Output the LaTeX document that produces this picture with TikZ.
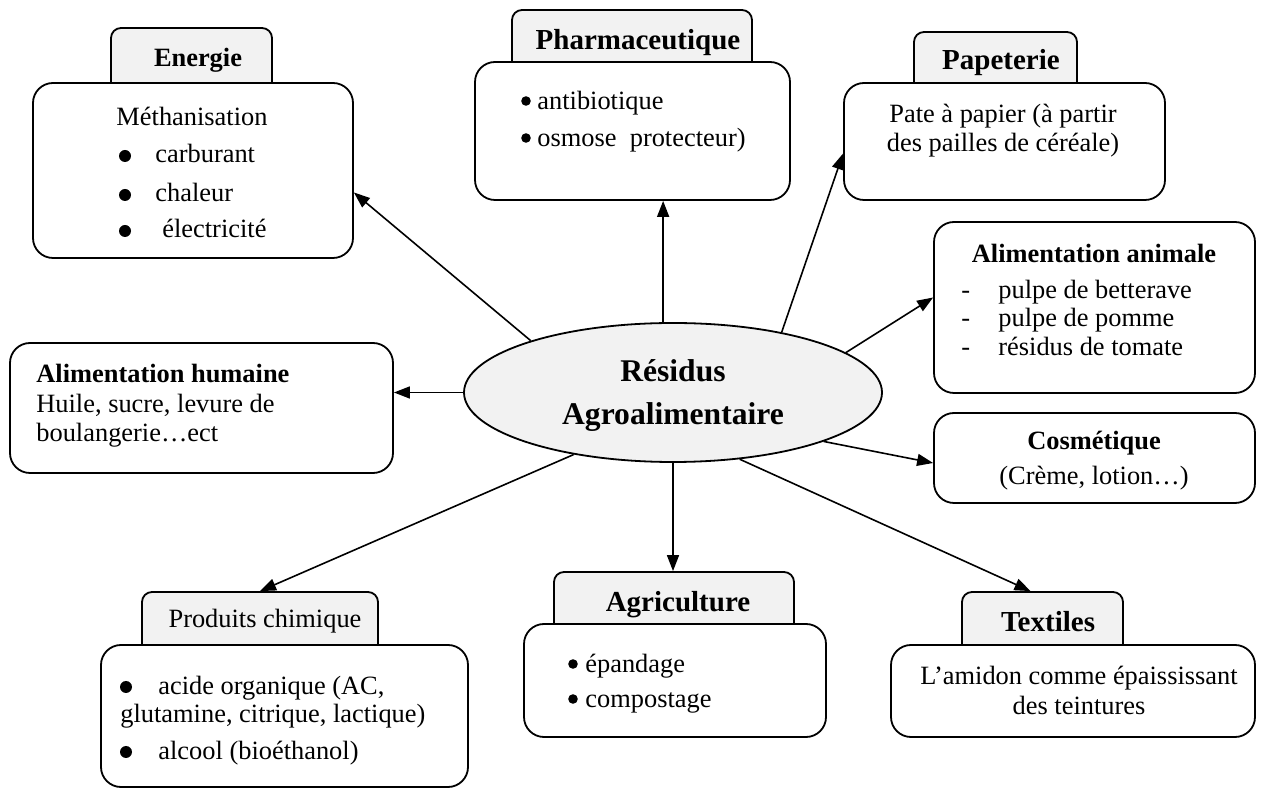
\documentclass[tikz,border=0pt]{standalone}
\usepackage{fontspec}
\setmainfont{Liberation Serif}
\usetikzlibrary{arrows.meta,calc,shapes.geometric}
\definecolor{gris}{RGB}{242,242,242}
\def\ftexte{\fontsize{13.2}{16}\selectfont}
\def\fgras{\bfseries\fontsize{13.2}{16}\selectfont}
\def\ftitre{\bfseries\fontsize{14.5}{17}\selectfont}
\def\fcentre{\bfseries\fontsize{15.8}{21.5}\selectfont}
\tikzset{
  boite/.style={draw, line width=0.9pt, rounded corners=10pt, fill=white, inner sep=0pt},
  onglet/.style={draw, line width=0.9pt, rounded corners=5pt, fill=gris, inner sep=0pt},
  fleche/.style={line width=0.8pt, -{Triangle[length=8pt,width=6pt]}},
  txt/.style={inner sep=0pt, anchor=base west, font=\ftexte},
  titre/.style={inner sep=0pt, anchor=base, font=\ftitre},
  puce/.style={fill=black}
}

\begin{document}
\begin{tikzpicture}[x=0.5pt,y=-0.5pt]
		\useasboundingbox (0,0) rectangle (1270,790);
		%%%%% ONGLETS %%%%%
		\node[onglet, minimum width=80.5pt, minimum height=33.5pt] (ongEner) at (191.5,61.5) {};
		\node[onglet, minimum width=120pt, minimum height=32pt] (ongPharma) at (632,42) {};
		\node[onglet, minimum width=81.5pt, minimum height=31.5pt] (ongPap) at (995.5,63.5) {};
		\node[onglet, minimum width=118pt, minimum height=32.5pt] (ongChim) at (260,624.5) {};
		\node[onglet, minimum width=120pt, minimum height=32pt] (ongAgri) at (674,604) {};
		\node[onglet, minimum width=80.5pt, minimum height=32.5pt] (ongTextil) at (1042.5,624.5) {};
		
		%%%%% BOITES %%%%%
		\node[boite, minimum width=160pt, minimum height=87.5pt] (ener) at (193,170.5) {};
		\node[boite, minimum width=157.5pt, minimum height=69pt] (pharma) at (632.5,131) {};
		\node[boite, minimum width=160.5pt, minimum height=58.5pt] (pap) at (1004.5,141.5) {};
		\node[boite, minimum width=160.5pt, minimum height=85.5pt] (anim) at (1094.5,307.5) {};
		\node[boite, minimum width=160.5pt, minimum height=45pt] (cosm) at (1094.5,458) {};
		\node[boite, minimum width=191.5pt, minimum height=65pt] (hum) at (201.5,408) {};
		\node[boite, minimum width=183.5pt, minimum height=71pt] (chim) at (284.5,716) {};
		\node[boite, minimum width=151pt, minimum height=56.5pt] (agri) at (675,680.5) {};
		\node[boite, minimum width=182pt, minimum height=46pt] (textil) at (1073,691) {};
		
		\node[ellipse, draw, fill=gris, line width=0.9pt, minimum width=209pt, minimum height=69.5pt,
		      inner sep=0pt] (res) at (673,392.5) {};
		
		%%%%% FLECHES %%%%%
		\draw[fleche] (res.160.5) -- ([yshift=-11pt]ener.east);
		\draw[fleche] (res.98) -- (res.98 |- pharma.south);
		\draw[fleche] (res.29) -- ([yshift=-6pt]pap.west);
		\draw[fleche] (res.13) -- ([yshift=5pt]anim.west);
		\draw[fleche] (res.342) -- ([yshift=-2.5pt]cosm.west);
		\draw[fleche] (res.west) -- (res.west -| hum.east);
		\draw[fleche] (res.212) -- (ongChim.north);
		\draw[fleche] (res.south) -- (res.south |- ongAgri.north);
		\draw[fleche] (res.315) -- ([xshift=-6pt]ongTextil.north);
		
		%%%%% TEXTES %%%%%
		\node[inner sep=0pt, anchor=base, font=\fcentre] (resA) at (673,382) {Résidus};
		\node[inner sep=0pt, anchor=base, font=\fcentre] (resB) at (673,425) {Agroalimentaire};
		
		% Energie
		\node[titre, font=\fgras] (tEner) at (198,67) {Energie};
		\node[inner sep=0pt, anchor=base, font=\ftexte] (eMeth) at (192,126) {Méthanisation};
		\fill[puce] (125,156) circle (3pt);
		\fill[puce] (125,195) circle (3pt);
		\fill[puce] (125,231) circle (3pt);
		\node[txt] (eCarb) at (155,163) {carburant};
		\node[txt] (eChal) at (155,202) {chaleur};
		\node[txt] (eElec) at (162,238) {électricité};
		
		% Pharmaceutique
		\node[titre] (tPharma) at (638,50) {Pharmaceutique};
		\fill[puce] (526,101) circle (2.4pt);
		\fill[puce] (526,138) circle (2.4pt);
		\node[txt] (pAnti) at (537,110) {antibiotique};
		\node[txt] (pOsmo) at (537,147) {osmose\ \ protecteur)};
		
		% Papeterie
		\node[titre] (tPap) at (1001,70) {Papeterie};
		\node[inner sep=0pt, anchor=base, font=\ftexte] (papA) at (1003,123) {Pate à papier (à partir};
		\node[inner sep=0pt, anchor=base, font=\ftexte] (papB) at (1003,152) {des pailles de céréale)};
		
		% Alimentation animale
		\node[titre, font=\fgras] (tAnim) at (1094,263) {Alimentation animale};
		\foreach \y/\t in {299/pulpe de betterave, 327/pulpe de pomme, 356/résidus de tomate}{
			\node[txt] at (961,\y) {-};
			\node[txt] at (998,\y) {\t};
		}
		
		% Cosmetique
		\node[titre, font=\fgras] (tCosm) at (1094,450) {Cosmétique};
		\node[inner sep=0pt, anchor=base, font=\ftexte] (cosA) at (1094,485) {(Crème, lotion…)};
		
		% Alimentation humaine
		\node[txt, font=\fgras] (tHum) at (36,383) {Alimentation humaine};
		\node[txt] (hA) at (36,413) {Huile, sucre, levure de};
		\node[txt] (hB) at (36,442) {boulangerie…ect};
		
		% Produits chimique
		\node[titre, font=\ftexte] (tChim) at (265,628) {Produits chimique};
		\fill[puce] (126,687) circle (3pt);
		\fill[puce] (126,752) circle (3pt);
		\node[txt] (cA) at (158,695) {acide organique (AC,};
		\node[txt] (cB) at (120,723) {glutamine, citrique, lactique)};
		\node[txt] (cC) at (158,760) {alcool (bioéthanol)};
		
		% Agriculture
		\node[titre] (tAgri) at (678,612) {Agriculture};
		\fill[puce] (573,664) circle (2.4pt);
		\fill[puce] (573,699) circle (2.4pt);
		\node[txt] (aA) at (585,673) {épandage};
		\node[txt] (aB) at (585,708) {compostage};
		
		% Textiles
		\node[titre] (tTextil) at (1048,632) {Textiles};
		\node[inner sep=0pt, anchor=base, font=\ftexte] (tA) at (1079,685) {L’amidon comme épaississant};
		\node[inner sep=0pt, anchor=base, font=\ftexte] (tB) at (1079,715) {des teintures};
\end{tikzpicture}
\end{document}
